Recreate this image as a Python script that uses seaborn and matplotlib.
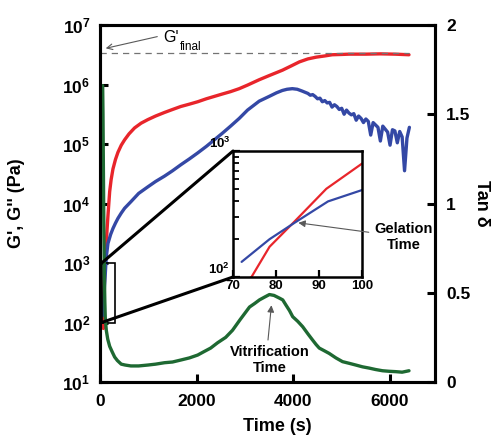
import numpy as np
import matplotlib
matplotlib.use("Agg")
import matplotlib.pyplot as plt
import seaborn as sns
from matplotlib.patches import Rectangle, ConnectionPatch
from matplotlib.ticker import FixedLocator, NullLocator, NullFormatter

# G' (storage modulus), log10(Pa) vs time (s)
t_gp = [70, 74.3, 78.5, 84.3, 91.7, 100, 115, 130, 145, 165, 200, 230, 268, 320, 371, 440,
        509, 600, 715, 850, 990, 1150, 1334, 1500, 1670, 1850, 2021, 2200, 2365, 2530,
        2701, 2880, 3052, 3293, 3500, 3773, 3950, 4124, 4300, 4474, 4650, 4804, 5000,
        5155, 5500, 5800, 6100, 6392]
gp_log = [1.9, 2.0, 2.24, 2.44, 2.70, 2.90, 3.12, 3.33, 3.55, 3.80, 4.20, 4.40, 4.58, 4.74,
          4.86, 4.98, 5.07, 5.17, 5.27, 5.35, 5.41, 5.47, 5.53, 5.58, 5.63, 5.67, 5.71,
          5.76, 5.80, 5.84, 5.88, 5.93, 5.99, 6.08, 6.15, 6.24, 6.31, 6.38, 6.43, 6.46,
          6.48, 6.50, 6.505, 6.51, 6.51, 6.515, 6.51, 6.50]

# G'' (loss modulus), log10(Pa) vs time (s)
t_gpp = [72, 78.5, 84.3, 92.1, 100, 130, 165, 220, 268, 320, 371, 440, 509, 639, 800, 990,
         1150, 1334, 1500, 1670, 1850, 2021, 2200, 2365, 2530, 2701, 2880, 3052, 3293,
         3500, 3650, 3773, 3870, 3979, 4080, 4180,
         4300, 4350, 4400, 4450, 4500, 4550, 4600, 4650, 4700, 4750, 4800, 4850,
         4900, 4950, 5000, 5050, 5100, 5150, 5200, 5250, 5300, 5350, 5400, 5450,
         5500, 5550, 5600, 5650, 5700, 5750, 5800, 5850, 5900, 5950, 6000, 6050,
         6100, 6150, 6200, 6250, 6300, 6350, 6400]
gpp_log = [2.12, 2.30, 2.43, 2.60, 2.69, 3.10, 3.33, 3.48, 3.58, 3.67, 3.75, 3.84, 3.92,
           4.03, 4.17, 4.28, 4.37, 4.46, 4.55, 4.65, 4.75, 4.85, 4.96, 5.07, 5.18, 5.30,
           5.43, 5.57, 5.72, 5.80, 5.86, 5.90, 5.92, 5.93, 5.92, 5.89,
           5.85, 5.82, 5.83, 5.80, 5.76, 5.77, 5.71, 5.73, 5.69, 5.70, 5.62, 5.66,
           5.63, 5.58, 5.60, 5.50, 5.57, 5.52, 5.49, 5.51, 5.40, 5.47, 5.43, 5.36,
           5.42, 5.38, 5.15, 5.36, 5.32, 5.28, 5.05, 5.30, 5.25, 5.20, 4.98, 5.24,
           5.22, 5.02, 5.21, 5.12, 4.55, 5.10, 5.28]

# tan delta vs time (s)
t_tan = [55, 62, 70, 80, 90, 100, 109, 130, 160, 200, 250, 303, 360, 439, 520, 639,
         800, 990, 1150, 1334, 1500, 1670, 1850, 2021, 2150, 2289, 2433, 2600, 2742,
         2900, 3093, 3200, 3299, 3400, 3505, 3600, 3711, 3780, 3849, 3920, 3986,
         4090, 4192, 4300, 4398, 4470, 4536, 4640, 4742, 4880, 5017, 5150, 5292,
         5430, 5567, 5700, 5845, 5980, 6117, 6250, 6392]
tan_d = [1.66, 1.5, 1.2, 0.85, 0.6, 0.45, 0.36, 0.29, 0.24, 0.20, 0.17, 0.14, 0.12, 0.10,
         0.095, 0.09, 0.09, 0.095, 0.10, 0.108, 0.112, 0.123, 0.135, 0.151, 0.17, 0.19,
         0.22, 0.25, 0.29, 0.35, 0.42, 0.44, 0.46, 0.475, 0.49, 0.485, 0.47, 0.46,
         0.43, 0.40, 0.366, 0.34, 0.31, 0.27, 0.235, 0.21, 0.19, 0.175, 0.16, 0.135,
         0.114, 0.105, 0.095, 0.085, 0.078, 0.07, 0.063, 0.06, 0.058, 0.055, 0.063]

g_final = 3.4e6

RED = "#e8252b"
BLUE = "#3448a5"
GREEN = "#1e6932"

sns.set_style("ticks")
plt.rcParams["font.family"] = ["Liberation Sans", "DejaVu Sans"]
plt.rcParams["font.weight"] = "bold"
plt.rcParams["mathtext.fontset"] = "custom"
plt.rcParams["mathtext.rm"] = "Liberation Sans:bold"
plt.rcParams["mathtext.bf"] = "Liberation Sans:bold"
plt.rcParams["mathtext.default"] = "bf"
for k in ["text.color", "axes.labelcolor", "xtick.color", "ytick.color", "axes.edgecolor"]:
    plt.rcParams[k] = "black"

gp = np.power(10.0, gp_log)
gpp = np.power(10.0, gpp_log)

fig = plt.figure(figsize=(4.98, 4.42), dpi=100)
ax = fig.add_axes([100 / 498, 60 / 442, 335 / 498, 357 / 442])
ax2 = ax.twinx()

sns.lineplot(x=t_gp, y=gp, ax=ax, color=RED, lw=2.4, estimator=None, sort=False, legend=False)
sns.lineplot(x=t_gpp, y=gpp, ax=ax, color=BLUE, lw=2.4, estimator=None, sort=False, legend=False)
sns.lineplot(x=t_tan, y=tan_d, ax=ax2, color=GREEN, lw=2.4, estimator=None, sort=False, legend=False)

ax.set_yscale("log")
ax.set_xlim(0, 6930)
ax.set_ylim(10, 1e7)
ax2.set_ylim(0, 2)
ax.hlines(g_final, 0, 6400, colors="0.45", linestyles=(0, (5, 4)), lw=0.9)

ax.set_xticks([0, 2000, 4000, 6000])
ax.yaxis.set_major_locator(FixedLocator([1e1, 1e2, 1e3, 1e4, 1e5, 1e6, 1e7]))
ax.yaxis.set_minor_locator(NullLocator())
ax2.set_yticks([0, 0.5, 1, 1.5, 2])
ax2.set_yticklabels(["0", "0.5", "1", "1.5", "2"])

for a in (ax, ax2):
    for s in a.spines.values():
        s.set_linewidth(2.2)
        s.set_color("black")
    a.tick_params(direction="in", length=6, width=2.2, labelsize=12.5)
ax.tick_params(axis="x", pad=9)
ax.tick_params(axis="y", pad=7)
ax2.tick_params(axis="y", pad=8)

ax.set_xlabel("Time (s)", fontsize=13, fontweight="bold")
ax.xaxis.set_label_coords(0.53, -0.1)
ax.set_ylabel("G', G'' (Pa)", fontsize=13, fontweight="bold")
ax.yaxis.set_label_coords(-0.225, 0.5)
ax2.set_ylabel("Tan δ", fontsize=13, fontweight="bold", rotation=270)
ax2.yaxis.set_label_coords(1.165, 0.5)

# zoom rectangle
ax.add_patch(Rectangle((35, 100), 285, 900, fill=False, ec="black", lw=1.2, zorder=6))

# inset
axins = fig.add_axes([233 / 498, 165 / 442, 129 / 498, 126 / 442])
axins.set_zorder(5)
sns.lineplot(x=t_gp, y=gp, ax=axins, color=RED, lw=1.6, estimator=None, sort=False, legend=False)
sns.lineplot(x=t_gpp, y=gpp, ax=axins, color=BLUE, lw=1.6, estimator=None, sort=False, legend=False)
axins.set_yscale("log")
axins.set_xlim(70, 100)
axins.set_ylim(100, 1000)
axins.set_xticks([70, 80, 90, 100])
axins.yaxis.set_major_locator(FixedLocator([100, 1000]))
axins.yaxis.set_minor_locator(FixedLocator([200, 300, 400, 500, 600, 700, 800, 900]))
axins.yaxis.set_minor_formatter(NullFormatter())
for s in axins.spines.values():
    s.set_linewidth(1.8)
    s.set_color("black")
axins.tick_params(direction="in", length=5, width=1.6, labelsize=9.5, pad=2)
axins.tick_params(axis="y", which="minor", direction="in", length=4, width=1.3)
axins.set_xlabel("")
axins.set_ylabel("")
for lab in axins.get_yticklabels():
    lab.set_verticalalignment("bottom")

for ya in (1000, 100):
    con = ConnectionPatch(xyA=(35, ya), coordsA=ax.transData,
                          xyB=(70, ya), coordsB=axins.transData,
                          color="black", lw=2.2)
    fig.add_artist(con)

# annotations
ax.annotate("", xy=(62, 3.96e6), xycoords="data", xytext=(160, 406),
            textcoords="figure pixels",
            arrowprops=dict(arrowstyle="->", color="0.35", lw=0.8))
fig.text(163, 405, "G'", transform=None, fontsize=11.5, fontweight="normal",
         ha="left", va="center")
fig.text(180, 395, "final", transform=None, fontsize=8.5, fontweight="normal",
         ha="left", va="center")

axins.annotate("Gelation\nTime", xy=(85.2, 10 ** 2.43), xycoords="data",
               xytext=(404, 205), textcoords="figure pixels",
               ha="center", va="center", fontsize=10.5, fontweight="bold",
               linespacing=1.15, annotation_clip=False,
               arrowprops=dict(arrowstyle="-|>", color="0.35", lw=0.8,
                               mutation_scale=10, shrinkA=2, shrinkB=0))

ax2.annotate("", xy=(3546, 0.43), xycoords="data", xytext=(268, 102),
             textcoords="figure pixels",
             arrowprops=dict(arrowstyle="-|>", color="0.35", lw=0.8,
                             mutation_scale=10, shrinkA=0, shrinkB=0))
fig.text(270, 82, "Vitrification\nTime", transform=None, fontsize=10.5,
         fontweight="bold", ha="center", va="center", linespacing=1.15)

fig.savefig("out.png", dpi=100)
